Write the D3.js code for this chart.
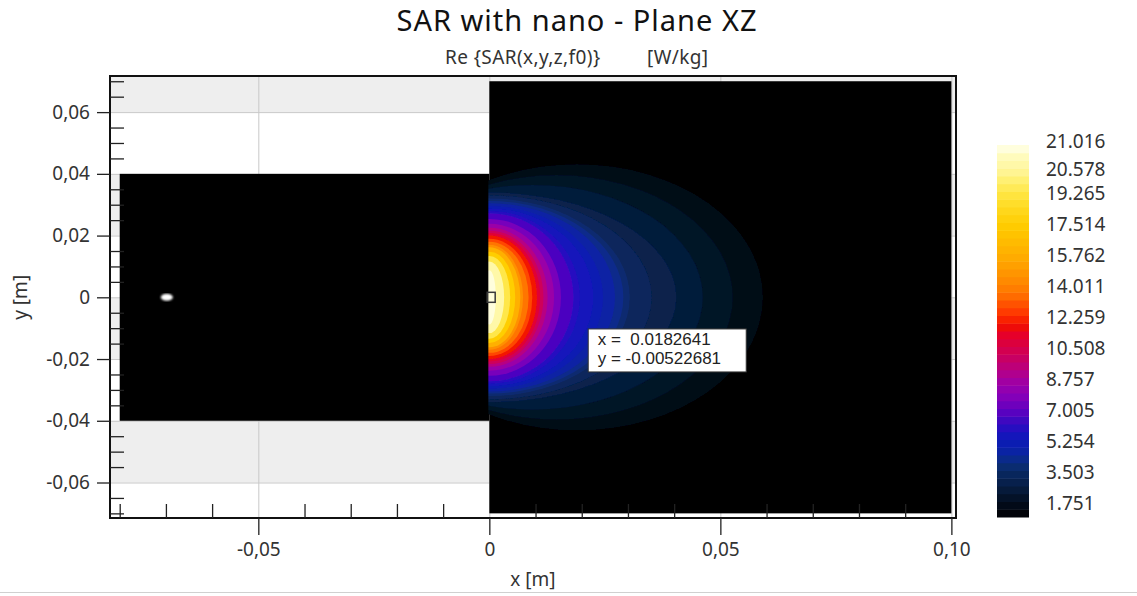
<!DOCTYPE html>
<meta charset="utf-8">
<style>

body {
  margin: 0;
  background: #fff;
}

text {
  font-family: "Noto Sans", "Open Sans", sans-serif;
  fill: #333;
}

.title { font-size: 29px; fill: #111; letter-spacing: 1px; }
.subtitle { font-size: 19px; letter-spacing: 0.4px; }
.axis text { font-size: 19px; fill: #333; }
.axis line { stroke: #222; stroke-width: 1.3px; }
.axis path { display: none; }
.cbar text { font-size: 19px; fill: #333; }
.tip text { font-family: "Liberation Sans", Arial, sans-serif; font-size: 17px; fill: #222; white-space: pre; }

</style>
<body>
<script src="https://cdn.jsdelivr.net/npm/d3@7/dist/d3.min.js"></script>
<script>

var w = 1137,
    h = 596;

var title = "SAR with nano - Plane XZ",
    subtitle = ["Re {SAR(x,y,z,f0)}", "[W/kg]"],
    xLabel = "x [m]",
    yLabel = "y [m]";

var xTicks = [-0.05, 0, 0.05, 0.10],
    xTickLabels = ["-0,05", "0", "0,05", "0,10"];

var yTicks = [-0.06, -0.04, -0.02, 0, 0.02, 0.04, 0.06],
    yTickLabels = ["-0,06", "-0,04", "-0,02", "0", "0,02", "0,04", "0,06"];

// colour bar: 48 equal bands from 0 to the max
var sarMax = 21.016,
    sarBands = 48,
    sarTicks = [1.751, 3.503, 5.254, 7.005, 8.757, 10.508, 12.259, 14.011, 15.762, 17.514, 19.265, 20.578, 21.016],
    sarTickLabels = ["1.751", "3.503", "5.254", "7.005", "8.757", "10.508", "12.259", "14.011", "15.762", "17.514", "19.265", "20.578", "21.016"];

// colour scale stops (W/kg -> colour)
var sarStops = [0, 0.3, 0.66, 1.1, 1.53, 1.97, 2.41, 2.85, 3.3, 3.8, 4.4, 4.9, 5.5, 6.05, 6.9, 7.74, 8.3, 8.87, 9.55, 10.3, 10.85, 11.4, 12.0, 12.5, 13.1, 14.0, 14.8, 16.5, 17.9, 18.5, 19.0, 19.6, 20.45, 21.016],
    sarColors = ["#000000", "#03060c", "#020a18", "#041228", "#061a3a", "#07204c", "#08265c", "#0a2c70", "#0a2a8c", "#0a22a8", "#0c1ab8", "#2010c0", "#4008c0", "#6000c0", "#8800b8", "#a400a0", "#b60084", "#c60068", "#d6004a", "#e6002a", "#f01000", "#ff3000", "#ff5000", "#ff6c00", "#ff8400", "#ff9a00", "#ffae00", "#ffcc00", "#ffe030", "#ffe850", "#fff070", "#fff59a", "#fffcc0", "#fffff0"];

// model bodies (m)
var bodyX0 = [-0.08, 0],
    bodyX1 = [0, 0.1],
    bodyY0 = [-0.04, -0.07],
    bodyY1 = [0.04, 0.07];

var sourceX = [-0.0698],
    sourceY = [0];

var probeX = [0.0004],
    probeY = [0];

var cursorX = 0.0182641,
    cursorY = -0.00522681,
    cursorText = ["x =  0.0182641", "y = -0.00522681"];

// SAR contours: level, reach along y=0, half height at x=0, max half height
var contourLevels = [0.438, 0.876, 1.313, 1.751, 2.189, 2.627, 3.065, 3.503, 3.940, 4.378, 4.816, 5.254, 6.130, 7.005, 7.881, 8.757, 9.632, 10.508, 11.384, 12.259, 13.135, 14.011, 15.762, 17.514, 19.265, 20.578],
    contourReach = [0.0592, 0.0527, 0.0462, 0.0405, 0.0351, 0.0304, 0.0290, 0.0272, 0.0246, 0.0225, 0.0196, 0.0182, 0.0155, 0.0140, 0.0126, 0.0117, 0.0110, 0.0103, 0.0093, 0.0085, 0.0073, 0.0067, 0.0056, 0.0045, 0.0032, 0.0014],
    contourEdge = [0.0380, 0.0366, 0.0352, 0.0340, 0.0330, 0.0320, 0.0312, 0.0305, 0.0296, 0.0288, 0.0280, 0.0272, 0.0254, 0.0238, 0.0225, 0.0216, 0.0208, 0.0200, 0.0190, 0.0180, 0.0170, 0.0162, 0.0148, 0.0134, 0.0116, 0.0088],
    contourTop = [0.0431, 0.0396, 0.0364];

var x = d3.scaleLinear().domain([-0.0821, 0.101]).range([110, 956]),
    y = d3.scaleLinear().domain([-0.0715, 0.0717]).range([518, 76]),
    cy = d3.scaleLinear().domain([0, sarMax]).range([517, 145]),
    color = d3.scaleLinear().domain(sarStops).range(sarColors).clamp(true);

var svg = d3.select("body").append("svg")
    .attr("width", w)
    .attr("height", h);

var defs = svg.append("defs");
defs.append("clipPath").attr("id", "fieldClip")
  .append("rect")
    .attr("x", x(0) - 1)
    .attr("y", y(0.07))
    .attr("width", x(0.1) - x(0) + 1)
    .attr("height", y(-0.07) - y(0.07));
defs.append("filter").attr("id", "soft")
    .attr("x", "-5%").attr("y", "-5%").attr("width", "110%").attr("height", "110%")
  .append("feGaussianBlur").attr("stdDeviation", 0.6);
defs.append("filter").attr("id", "blob")
  .append("feGaussianBlur").attr("stdDeviation", 0.8);

// alternating background bands
var yEdges = [y.domain()[0]].concat(yTicks, [y.domain()[1]]);
svg.append("g").selectAll("rect")
    .data(d3.pairs(yEdges))
  .enter().append("rect")
    .attr("x", x.range()[0])
    .attr("width", x.range()[1] - x.range()[0])
    .attr("y", function(d) { return y(d[1]); })
    .attr("height", function(d) { return y(d[0]) - y(d[1]); })
    .attr("fill", function(d, i) { return i % 2 ? "#eeeeee" : "#fff"; });

// grid
var grid = svg.append("g").attr("stroke", "#c8c8c8").attr("stroke-width", 1);
grid.selectAll(".gx").data(xTicks).enter().append("line")
    .attr("x1", function(d) { return x(d) + 0.5; })
    .attr("x2", function(d) { return x(d) + 0.5; })
    .attr("y1", y.range()[1]).attr("y2", y.range()[0]);
grid.selectAll(".gy").data(yTicks).enter().append("line")
    .attr("y1", function(d) { return y(d) + 0.5; })
    .attr("y2", function(d) { return y(d) + 0.5; })
    .attr("x1", x.range()[0]).attr("x2", x.range()[1]);

// bodies
svg.append("g").selectAll("rect")
    .data(bodyX0)
  .enter().append("rect")
    .attr("x", function(d) { return x(d); })
    .attr("width", function(d, i) { return x(bodyX1[i]) - x(d); })
    .attr("y", function(d, i) { return y(bodyY1[i]); })
    .attr("height", function(d, i) { return y(bodyY0[i]) - y(bodyY1[i]); })
    .attr("fill", "#000");

// SAR field as nested contours
var nc = contourLevels.length,
    bandStep = sarMax / sarBands;
var rows = contourLevels.map(function(L, i) {
  var edge = contourEdge[i],
      top = contourTop[i] || edge,
      reach = contourReach[i],
      r = top > edge ? Math.sqrt(1 - (edge / top) * (edge / top)) : 0,
      a = reach / (1 + r),
      next = i < nc - 1 ? contourLevels[i + 1] : L + bandStep;
  return {c: reach - a, a: a, b: Math.max(top, edge), v: (L + next) / 2};
});

svg.append("g")
    .attr("clip-path", "url(#fieldClip)")
  .append("g")
    .attr("filter", "url(#soft)")
  .selectAll("ellipse")
    .data(rows)
  .enter().append("ellipse")
    .attr("cx", function(d) { return x(d.c); })
    .attr("cy", y(0))
    .attr("rx", function(d) { return x(d.c + d.a) - x(d.c); })
    .attr("ry", function(d) { return y(0) - y(d.b); })
    .attr("fill", function(d) { return color(d.v); });

// source blob
svg.append("g").selectAll("ellipse")
    .data(sourceX)
  .enter().append("ellipse")
    .attr("cx", function(d) { return x(d); })
    .attr("cy", function(d, i) { return y(sourceY[i]); })
    .attr("rx", 6)
    .attr("ry", 3.5)
    .attr("fill", "#fff")
    .attr("filter", "url(#blob)");

// probe marker
svg.append("g").selectAll("rect")
    .data(probeX)
  .enter().append("rect")
    .attr("x", function(d) { return x(d) - 4; })
    .attr("y", function(d, i) { return y(probeY[i]) - 5; })
    .attr("width", 8)
    .attr("height", 10)
    .attr("fill", "none")
    .attr("stroke", "#3a3a3a")
    .attr("stroke-width", 1.5);

// frame
svg.append("rect")
    .attr("x", x.range()[0])
    .attr("y", y.range()[1])
    .attr("width", x.range()[1] - x.range()[0])
    .attr("height", y.range()[0] - y.range()[1])
    .attr("fill", "none")
    .attr("stroke", "#111")
    .attr("stroke-width", 2);

// axes
var xMinor = d3.range(-8, 11).filter(function(i) { return i % 5 !== 0; }).map(function(i) { return i * 0.01; }),
    yMinor = d3.range(-14, 15).filter(function(i) { return i % 4 !== 0; }).map(function(i) { return i * 0.005; });

svg.append("g")
    .attr("class", "axis")
    .attr("transform", "translate(0," + y.range()[0] + ")")
    .call(d3.axisBottom(x).tickValues(xTicks).tickFormat(function(d, i) { return xTickLabels[i]; })
      .tickSize(17).tickPadding(8));

svg.append("g")
    .attr("class", "axis")
    .attr("transform", "translate(0," + y.range()[0] + ")")
    .call(d3.axisTop(x).tickValues(xMinor).tickFormat("").tickSize(14));

svg.append("g")
    .attr("class", "axis")
    .attr("transform", "translate(" + x.range()[0] + ",0)")
    .call(d3.axisLeft(y).tickValues(yTicks).tickFormat(function(d, i) { return yTickLabels[i]; })
      .tickSize(13).tickPadding(7));

svg.append("g")
    .attr("class", "axis")
    .attr("transform", "translate(" + x.range()[0] + ",0)")
    .call(d3.axisRight(y).tickValues(yMinor).tickFormat("").tickSize(14));

svg.append("text")
    .attr("x", (x.range()[0] + x.range()[1]) / 2)
    .attr("y", 586)
    .attr("text-anchor", "middle")
    .style("font-size", "19px")
    .text(xLabel);

svg.append("text")
    .attr("transform", "translate(20," + y(0) + ")rotate(-90)")
    .attr("text-anchor", "middle")
    .attr("dy", "0.35em")
    .style("font-size", "19px")
    .text(yLabel);

// titles
svg.append("text")
    .attr("class", "title")
    .attr("x", 577)
    .attr("y", 31)
    .attr("text-anchor", "middle")
    .text(title);

svg.append("text")
    .attr("class", "subtitle")
    .attr("x", 445)
    .attr("y", 64)
    .text(subtitle[0]);

svg.append("text")
    .attr("class", "subtitle")
    .attr("x", 647)
    .attr("y", 64)
    .text(subtitle[1]);

// colour bar
var cbar = svg.append("g").attr("class", "cbar");
cbar.selectAll("rect")
    .data(d3.range(sarBands))
  .enter().append("rect")
    .attr("x", 997)
    .attr("width", 32)
    .attr("y", function(i) { return cy((i + 1) * bandStep); })
    .attr("height", function(i) { return cy(i * bandStep) - cy((i + 1) * bandStep) + 0.5; })
    .attr("fill", function(i) { return color((i + 0.5) * bandStep); });

cbar.selectAll("text")
    .data(sarTicks)
  .enter().append("text")
    .attr("x", 1046)
    .attr("y", function(d) { return d === sarMax ? cy(d) - 4 : cy(d) + 17; })
    .attr("dy", "0.35em")
    .text(function(d, i) { return sarTickLabels[i]; });

// cursor read-out
var tip = svg.append("g")
    .attr("class", "tip")
    .attr("transform", "translate(" + (x(cursorX) + 14) + "," + (y(cursorY) + 15) + ")");
tip.append("rect")
    .attr("x", 0.5)
    .attr("y", 0.5)
    .attr("width", 158)
    .attr("height", 43)
    .attr("fill", "#fff")
    .attr("stroke", "#333");
tip.selectAll("text")
    .data(cursorText)
  .enter().append("text")
    .attr("x", 10)
    .attr("y", function(d, i) { return 17 + i * 19; })
    .text(function(d) { return d; });

// bottom rule
svg.append("line")
    .attr("x1", 0).attr("x2", w)
    .attr("y1", 592.5).attr("y2", 592.5)
    .attr("stroke", "#d0d0d0");

</script>
</body>
